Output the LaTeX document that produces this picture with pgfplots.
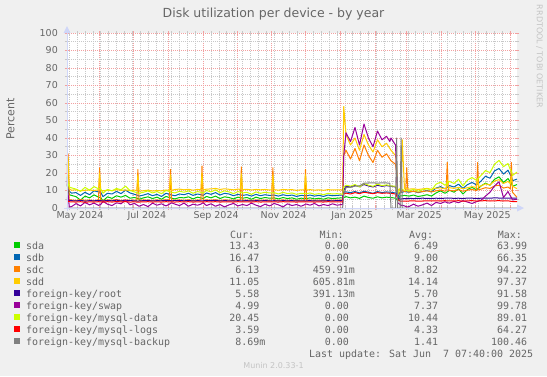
\documentclass[border=0pt]{standalone}
\usepackage{pgfplots}
\pgfplotsset{compat=1.18}
\usepackage{pgfplotstable}
\usepackage{fontspec}
\setmainfont{DejaVu Sans}
\newfontfamily\mono{DejaVu Sans Mono}
\definecolor{bg}{HTML}{F0F0F0}
\definecolor{fontc}{HTML}{666666}
\definecolor{axisc}{HTML}{CFD6F8}
\definecolor{mgrid}{HTML}{F2A0A0}
\definecolor{gridc}{HTML}{C8C8C8}
\definecolor{wmark}{HTML}{C4C4C4}
\definecolor{csda}{HTML}{00CC00}
\definecolor{csdb}{HTML}{0066B3}
\definecolor{csdc}{HTML}{FF8000}
\definecolor{csdd}{HTML}{FFCC00}
\definecolor{croot}{HTML}{330099}
\definecolor{cswap}{HTML}{990099}
\definecolor{cdata}{HTML}{CCFF00}
\definecolor{clogs}{HTML}{FF0000}
\definecolor{cback}{HTML}{808080}

\pgfplotstableread{
d sda sdb sdc sdd root swap data logs backup
2   14.0 18.0 20.0 24.0 6.0 16.0 19.0 4.2 0
3   10.0 13.0 31.0 29.0 5.0 8.0 14.0 3.9 0
4   7.6  9.6  4.8  11.0 4.4 0.6 12.0 3.6 0
6   7.2  8.5  4.6  10.2 4.2 0.8 11.5 3.5 0
10  6.5  8.8  4.3  10.4 4.0 2.5 10.8 3.4 0
14  4.5  7.2  4.8  9.8  4.4 1.2 9.5  3.6 0
18  6.8  9.0  4.4  10.1 3.9 3.2 11.8 3.3 0
22  5.8  7.6  4.6  10.3 4.2 1.8 10.2 3.5 0
26  7.5  9.8  4.2  10.0 4.1 2.8 12.2 3.4 0
30  6.2  9.2  4.7  10.4 4.3 1.5 11.0 3.6 0
31  6.1  9.1  23.0 20.0 4.2 1.8 10.9 3.5 0
32  6.0  9.0  4.5  10.2 4.2 2.0 10.8 3.5 0
34  4.0  6.5  4.3  9.8  4.0 3.8 8.5  3.4 0
38  6.4  8.4  4.6  10.2 4.3 2.2 10.6 3.6 0
42  5.5  8.0  4.4  9.9  4.1 1.4 9.8  3.4 0
46  7.0  9.5  4.8  10.5 4.5 3.0 11.2 3.7 0
50  6.2  8.2  4.3  10.1 4.0 2.4 10.4 3.5 0
54  7.2  10.2 4.6  10.3 4.4 4.5 12.5 3.6 0
58  5.6  8.6  4.4  10.0 4.2 1.8 10.0 3.4 0
62  6.0  7.8  4.5  10.2 4.1 2.6 9.2  3.5 0
64  5.6  7.4  4.4  10.0 4.0 1.8 8.8  3.4 0
65  5.5  7.2  22.0 19.0 4.0 1.4 8.6  3.4 0
66  5.0  6.8  4.3  9.6  4.0 1.0 8.4  3.4 0
70  5.8  7.4  4.6  9.9  4.2 2.0 9.0  3.5 0
74  6.4  8.2  4.5  10.2 4.3 0.8 9.8  3.6 0
78  5.4  7.0  4.3  9.7  4.0 2.8 8.6  3.4 0
82  6.2  7.8  4.6  10.0 4.2 1.6 9.4  3.5 0
86  5.0  6.6  4.4  9.8  4.1 2.4 8.2  3.4 0
90  6.6  8.4  4.7  10.3 4.4 1.2 10.0 3.6 0
93  6.0  7.8  4.5  10.1 4.2 2.2 9.4  3.5 0
94  5.8  7.6  22.0 19.0 4.2 2.6 9.2  3.5 0
95  5.6  7.4  4.4  10.0 4.1 3.0 9.0  3.5 0
98  5.2  7.0  4.5  10.6 4.2 2.2 8.6  3.4 0
102 6.0  8.0  4.6  10.8 4.3 1.4 9.6  3.6 0
106 5.8  7.6  4.4  10.4 4.1 2.8 9.0  3.5 0
110 6.4  8.4  4.7  10.7 4.3 1.0 9.8  3.6 0
114 5.2  7.2  4.3  10.2 4.0 2.2 8.4  3.4 0
118 6.2  8.0  4.6  10.6 4.2 1.6 9.4  3.5 0
121 5.8  7.6  4.5  10.4 4.1 2.2 9.0  3.5 0
122 5.6  7.4  24.0 20.0 4.1 2.6 8.8  3.5 0
123 5.4  7.2  4.4  10.3 4.1 3.0 8.6  3.4 0
126 6.6  8.6  4.6  10.8 4.3 1.4 10.0 3.6 0
130 5.8  7.8  4.5  10.9 4.2 2.4 9.2  3.5 0
134 6.8  8.8  4.7  11.2 4.4 1.0 10.4 3.6 0
138 5.4  7.4  4.3  10.6 4.0 2.0 8.8  3.4 0
142 6.4  8.4  4.6  11.0 4.2 0.6 9.8  3.5 0
146 6.0  8.0  4.5  10.7 4.1 1.8 9.2  3.5 0
150 5.2  7.0  4.4  10.4 4.0 2.6 8.2  3.4 0
154 6.2  7.8  4.6  10.8 4.2 1.2 9.4  3.6 0
156 5.9  7.5  4.5  10.6 4.1 1.6 9.0  3.5 0
157 5.8  7.4  23.5 19.5 4.1 1.8 8.8  3.5 0
158 5.6  7.2  4.4  10.5 4.1 2.0 8.6  3.5 0
162 6.0  7.6  4.5  10.7 4.2 1.4 9.0  3.5 0
166 5.0  6.8  4.3  10.3 4.0 2.8 7.8  3.4 0
170 6.2  7.8  4.6  10.6 4.2 1.6 9.2  3.6 0
174 5.4  7.0  4.4  10.4 4.1 0.8 8.4  3.4 0
178 6.0  7.6  4.5  10.6 4.2 2.2 9.0  3.5 0
182 5.6  7.2  4.4  10.3 4.1 1.2 8.6  3.5 0
184 5.7  7.3  4.5  10.4 4.1 1.8 8.7  3.5 0
185 5.7  7.3  23.0 19.0 4.1 2.2 8.7  3.5 0
186 5.8  7.4  4.5  10.5 4.2 2.6 8.8  3.5 0
190 5.2  6.8  4.3  10.2 4.0 1.8 8.0  3.4 0
194 6.0  7.6  4.6  10.6 4.2 0.6 9.0  3.6 0
198 5.4  7.0  4.4  10.4 4.1 2.4 8.2  3.5 0
202 5.8  7.4  4.5  10.5 4.2 1.4 8.6  3.5 0
206 5.0  6.6  4.3  10.1 4.0 2.0 7.8  3.4 0
210 5.6  7.2  4.5  10.4 4.1 1.0 8.4  3.5 0
213 5.5  7.1  4.4  10.3 4.1 1.8 8.3  3.5 0
214 5.4  7.0  22.0 19.0 4.1 2.2 8.2  3.5 0
215 5.4  7.0  4.4  10.3 4.1 2.2 8.2  3.5 0
218 5.8  7.4  4.5  10.5 4.2 1.6 8.6  3.5 0
222 5.2  6.8  4.4  10.2 4.0 2.6 7.8  3.4 0
226 5.6  7.2  4.5  10.4 4.1 1.2 8.2  3.5 0
230 5.0  6.6  4.3  10.1 4.0 2.0 7.6  3.4 0
234 5.8  7.4  4.6  10.5 4.2 1.4 8.4  3.6 0
238 5.4  7.0  4.4  10.3 4.1 2.4 8.0  3.5 0
242 5.6  7.2  4.5  10.4 4.2 1.6 8.2  3.5 0
246 5.8  7.4  4.5  10.4 4.2 2.0 8.0  3.5 0
247 5.8  7.4  4.4  10.2 4.1 1.8 7.8  3.4 0
248 6.0  9.0  30.0 58.0 10.0 30.0 12.0 8.0 8.0
250 6.5  9.2  33.0 42.0 12.5 43.0 13.0 8.5 11.7
254 5.8  8.8  28.0 36.0 12.0 38.0 12.5 8.0 11.8
258 6.2  9.4  34.0 40.0 13.0 46.0 13.4 8.8 12.5
262 5.5  8.6  27.0 33.0 12.2 36.0 12.0 8.2 12.6
266 6.8  9.6  36.0 42.0 13.4 48.0 14.0 9.0 14.2
270 6.0  9.0  30.0 36.0 12.6 40.0 13.0 8.6 14.3
274 5.6  8.4  26.0 32.0 12.0 35.0 12.4 8.2 14.4
278 6.4  9.4  33.0 39.0 13.0 44.0 13.6 8.8 14.2
282 5.8  8.8  29.0 35.0 12.4 39.0 12.8 8.4 14.4
286 6.2  9.2  31.0 37.0 12.8 41.0 13.2 8.6 14.3
289 6.0  9.0  28.0 34.0 12.5 38.0 12.8 8.4 14.2
290 6.0  9.0  27.0 33.0 12.5 40.0 12.6 8.4 0
294 5.6  8.6  25.0 30.0 12.0 36.0 12.4 8.0 0
295 5.0  8.0  20.0 25.0 10.0 20.0 11.0 7.0 40.0
296 4.0  6.0  8.0  10.0 6.0  3.0  8.0  5.0 0
298 7.0  9.0  9.0  11.0 5.0  2.0  11.0 4.0 0
299 7.0  9.0  9.0  11.0 5.2  1.5  11.0 4.0 40.0
300 7.0  9.0  10.0 39.0 5.3  1.5  10.5 4.0 0
302 7.2  9.4  9.5  11.0 5.4  1.2  10.2 4.0 0
303 7.1  9.3  9.4  11.2 5.4  0.9  10.1 4.0 0
304 7.0  9.2  23.0 11.5 5.4  0.6  10.0 3.9 0
305 6.9  9.1  9.3  11.0 5.5  0.7  9.9  4.0 0
306 6.8  9.0  9.2  10.8 5.5  0.8  9.8  4.0 0
310 7.4  9.6  9.6  11.0 5.4  2.2  10.6 4.1 0
314 6.6  8.8  9.0  10.6 5.5  1.0  9.6  3.9 0
318 7.0  9.4  9.4  10.9 5.6  1.8  10.4 4.0 0
322 7.6  10.0 9.8  11.2 5.5  2.8  11.0 4.1 0
326 6.8  9.2  9.2  10.7 5.4  1.4  10.2 4.0 0
330 8.6  11.4 9.8  11.3 5.6  3.2  13.6 4.1 0
334 9.8  12.2 10.2 11.5 5.5  2.6  14.8 4.0 0
338 8.4  11.0 9.6  11.0 5.6  3.6  13.0 4.2 0
339 8.8  11.4 9.8  11.2 5.6  3.3  13.6 4.1 0
340 9.2  11.8 26.0 16.0 5.6  3.0  14.2 4.1 0
341 9.7  12.3 9.9  11.4 5.7  2.9  14.7 4.1 0
342 10.2 12.8 10.0 11.6 5.7  2.8  15.2 4.1 0
346 9.0  12.0 9.8  11.2 5.5  3.8  14.0 4.0 0
350 11.0 13.6 10.4 11.8 5.6  3.0  16.4 4.2 0
354 8.0  11.2 9.6  11.0 5.4  4.2  12.6 3.9 0
358 10.6 13.4 10.2 11.6 5.7  3.4  16.0 4.1 0
362 11.8 14.6 10.6 12.2 5.6  2.6  17.4 4.2 0
366 10.4 13.2 10.0 11.8 5.5  3.6  15.8 4.0 0
367 10.9 13.7 26.0 17.0 5.5  3.8  16.5 4.0 0
368 11.4 14.2 10.3 12.1 5.5  4.0  17.2 4.1 0
370 12.6 15.4 10.8 12.6 5.6  4.4  18.6 4.1 0
374 14.2 18.2 11.6 13.8 5.7  6.8  21.4 4.2 0
378 13.0 17.0 11.2 13.2 5.6  9.0  20.2 4.0 0
382 16.4 21.2 12.6 15.4 5.8  12.6 25.0 4.1 0
386 17.8 22.6 13.0 16.2 5.7  15.0 27.2 4.2 0
390 14.6 19.4 11.4 14.0 5.6  6.0  23.6 4.0 0
394 16.8 21.6 12.0 15.2 5.7  9.4  25.4 4.1 0
396 15.0 19.0 11.0 14.0 5.6  7.0  22.0 3.9 0
397 14.4 18.0 26.0 18.0 5.6  6.0  21.0 3.8 0
398 12.4 15.6 9.0  12.4 5.6  4.6  18.6 3.7 0
402 13.4 16.5 6.1  11.1 5.6  5.0  20.5 3.6 0
}\disk

\newcommand\lgf{\mono\fontsize{9.97}{12}\selectfont}

\begin{document}
\begin{tikzpicture}[x=1pt,y=1pt]
\fill[bg] (0,0) rectangle (547,-376);
\useasboundingbox (0,0) rectangle (547,-376);
\begin{axis}[
  at={(67pt,-208pt)}, anchor=south west,
  scale only axis, width=450pt, height=175pt,
  xmin=2, xmax=402, ymin=0, ymax=100,
  axis line style={draw=none},
  axis background/.style={fill=white},
  xtick={31,61,92,123,153,184,214,245,276,304,335,365,396},
  xticklabels={},
  minor xtick={4,11,...,403},
  ytick={0,10,...,100},
  minor ytick={5,15,...,95},
  grid=both,
  major grid style={draw=mgrid, line width=0.7pt, dash pattern=on 1pt off 1pt},
  minor grid style={draw=gridc, line width=0.7pt, dash pattern=on 1pt off 1pt},
  tick align=center,
  xtick pos=both, ytick pos=both,
  major tick length=4pt, minor tick length=4pt,
  major tick style={draw=mgrid, line width=0.7pt},
  minor tick style={draw=gridc, line width=0.7pt},
  extra x ticks={13.5,73,134.5,194.5,255.5,315,375.5},
  extra x tick labels={May 2024,Jul 2024,Sep 2024,Nov 2024,Jan 2025,Mar 2025,May 2025},
  extra x tick style={grid=none, major tick length=0pt},
  /pgf/number format/assume math mode=true,
  ticklabel style={font=\fontsize{9.5}{10}\selectfont, text=fontc},
  xticklabel style={anchor=north, inner sep=0pt, yshift=-3pt},
  yticklabel style={anchor=east, inner sep=0pt, xshift=-7pt},
  every axis plot/.append style={line width=1pt, mark=none, line join=round},
]
\addplot[csda] table[x=d, y=sda] {\disk};
\addplot[csdb] table[x=d, y=sdb] {\disk};
\addplot[csdc] table[x=d, y=sdc] {\disk};
\addplot[csdd] table[x=d, y=sdd] {\disk};
\addplot[croot] table[x=d, y=root] {\disk};
\addplot[cswap] table[x=d, y=swap] {\disk};
\addplot[cdata] table[x=d, y=data] {\disk};
\addplot[clogs] table[x=d, y=logs] {\disk};
\addplot[cback] table[x=d, y=backup] {\disk};
\end{axis}
% axes with arrows
\draw[axisc, line width=1pt] (64,-208) -- (517,-208);
\fill[axisc] (517,-204.5) -- (524,-208) -- (517,-211.5) -- cycle;
\draw[axisc, line width=1pt] (67,-211) -- (67,-33);
\fill[axisc] (63.5,-33) -- (67,-26) -- (70.5,-33) -- cycle;
% title, labels
\node[text=fontc, font=\fontsize{12.5}{14}\selectfont, anchor=base] at (273.5,-17) {Disk utilization per device - by year};
\node[text=fontc, font=\fontsize{11}{12}\selectfont, rotate=90] at (10.5,-119) {Percent};
\node[text=wmark, font=\fontsize{8}{9}\selectfont, rotate=-90] at (539.5,-56.5) {RRDTOOL / TOBI OETIKER};
% legend header
\foreach \t/\xx in {Cur:/230, Min:/319.5, Avg:/408.8, Max:/497.7}
  \node[text=fontc, font=\lgf, anchor=base west, inner sep=0pt] at (\xx,-238.3) {\t};
% legend rows
\foreach \c/\n/\cur/\mn/\av/\mx [count=\i from 0] in {
  csda/sda/13.43\phantom{m}/0.00\phantom{m}/6.49\phantom{m}/63.99\phantom{m},
  csdb/sdb/16.47\phantom{m}/0.00\phantom{m}/9.00\phantom{m}/66.35\phantom{m},
  csdc/sdc/6.13\phantom{m}/459.91m/8.82\phantom{m}/94.22\phantom{m},
  csdd/sdd/11.05\phantom{m}/605.81m/14.14\phantom{m}/97.37\phantom{m},
  croot/foreign-key\slash root/5.58\phantom{m}/391.13m/5.70\phantom{m}/91.58\phantom{m},
  cswap/foreign-key\slash swap/4.99\phantom{m}/0.00\phantom{m}/7.37\phantom{m}/99.78\phantom{m},
  cdata/foreign-key\slash mysql-data/20.45\phantom{m}/0.00\phantom{m}/10.44\phantom{m}/89.01\phantom{m},
  clogs/foreign-key\slash mysql-logs/3.59\phantom{m}/0.00\phantom{m}/4.33\phantom{m}/64.27\phantom{m},
  cback/foreign-key\slash mysql-backup/8.69m/0.00\phantom{m}/1.41\phantom{m}/100.46\phantom{m}}
{
  \pgfmathsetmacro\yy{-249.3-12*\i}
  \fill[\c] (13.8,\yy+7) rectangle (19.8,\yy+1);
  \node[text=fontc, font=\lgf, anchor=base west, inner sep=0pt] at (26,\yy) {\n};
  \node[text=fontc, font=\lgf, anchor=base east, inner sep=0pt] at (265.5,\yy) {\cur};
  \node[text=fontc, font=\lgf, anchor=base east, inner sep=0pt] at (355,\yy) {\mn};
  \node[text=fontc, font=\lgf, anchor=base east, inner sep=0pt] at (444.4,\yy) {\av};
  \node[text=fontc, font=\lgf, anchor=base east, inner sep=0pt] at (533.4,\yy) {\mx};
}
\node[text=fontc, font=\lgf, anchor=base east, inner sep=0pt] at (533.4,-357.5) {Last update: Sat Jun~~7 07:40:00 2025};
\node[text=wmark, font=\fontsize{8}{9}\selectfont, anchor=base] at (273.5,-368) {Munin 2.0.33-1};
\end{tikzpicture}
\end{document}
